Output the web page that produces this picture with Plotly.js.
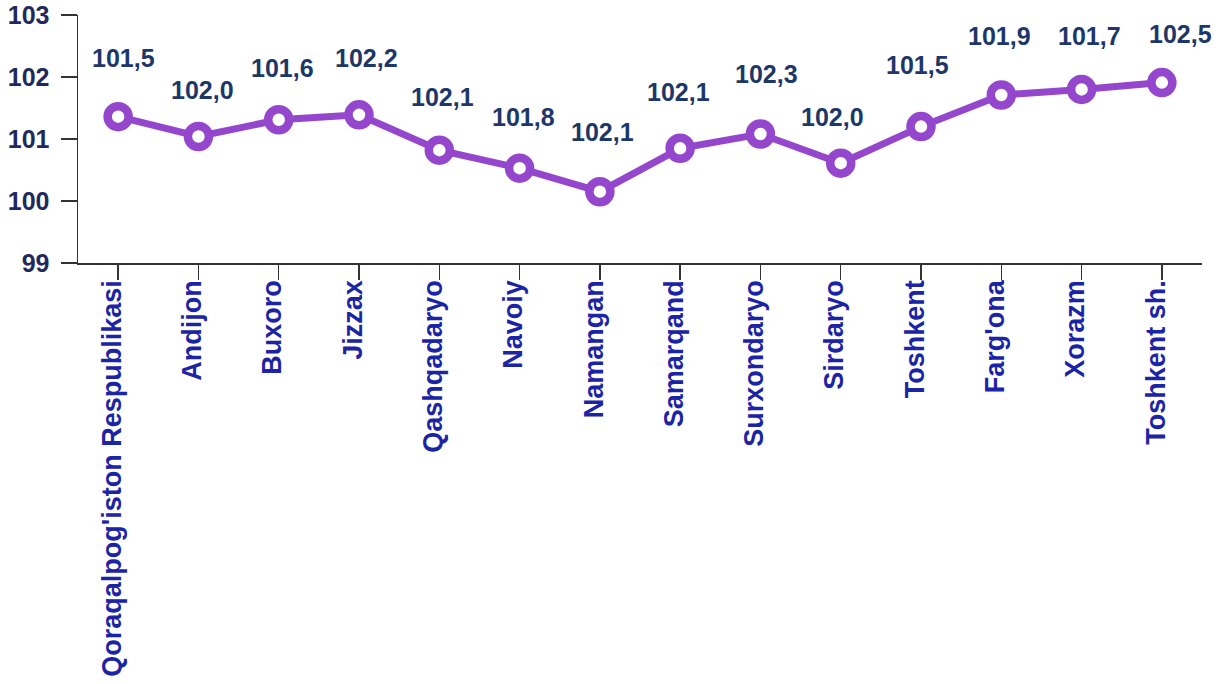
<!DOCTYPE html>
<html>
<head>
<meta charset="utf-8">
<script src="https://cdn.plot.ly/plotly-3.0.1.min.js"></script>
<style>
  html, body { margin: 0; padding: 0; background: #ffffff; }
  #chart { width: 1231px; height: 684px; }
</style>
</head>
<body>
<div id="chart"></div>
<script>
// ---- data ----
const regions = [
  "Qoraqalpog'iston Respublikasi", "Andijon", "Buxoro", "Jizzax", "Qashqadaryo",
  "Navoiy", "Namangan", "Samarqand", "Surxondaryo", "Sirdaryo",
  "Toshkent", "Farg'ona", "Xorazm", "Toshkent sh."
];
const lineValues = [
  101.36, 101.04, 101.31, 101.39, 100.82,
  100.53, 100.15, 100.85, 101.08, 100.61,
  101.20, 101.71, 101.80, 101.91
];
const valueLabels = [
  "101,5", "102,0", "101,6", "102,2", "102,1",
  "101,8", "102,1", "102,1", "102,3", "102,0",
  "101,5", "101,9", "101,7", "102,5"
];
const yTicks = [99, 100, 101, 102, 103];

// ---- label placement nudges (pixels, relative to each point) ----
const labelLift = [59, 47, 52, 57, 53, 51, 60, 56, 60, 46, 62, 59, 53, 49];
const labelSide = [5, 4, 4, 7, 3, 4, 3, -2, 6, -8, -4, -2, 8, 19];

const FONT = "Liberation Sans, Arial, Helvetica, sans-serif";

const trace = {
  type: "scatter",
  mode: "lines+markers",
  x: regions,
  y: lineValues,
  line: { color: "#9447cc", width: 7 },
  marker: {
    size: 21,
    color: "#ffffff",
    line: { color: "#9447cc", width: 8.5 }
  },
  hoverinfo: "x+y",
  showlegend: false
};

const annotations = regions.map((r, i) => ({
  x: r,
  y: lineValues[i],
  xref: "x",
  yref: "y",
  text: valueLabels[i],
  showarrow: false,
  xanchor: "center",
  yanchor: "middle",
  yshift: labelLift[i],
  xshift: labelSide[i],
  font: { family: FONT, size: 25, color: "#1d3768", weight: "bold" }
}));

const layout = {
  width: 1231,
  height: 684,
  paper_bgcolor: "#ffffff",
  plot_bgcolor: "#ffffff",
  margin: { l: 78, r: 29, t: 15, b: 421 },
  xaxis: {
    type: "category",
    range: [-0.5, 13.5],
    showgrid: false,
    zeroline: false,
    showline: true,
    linecolor: "#333333",
    linewidth: 1.5,
    ticks: "outside",
    ticklen: 15,
    tickwidth: 1.5,
    tickcolor: "#333333",
    tickangle: -90,
    ticklabelshift: -6,
    ticklabelstandoff: -10,
    tickfont: { family: FONT, size: 27, color: "#1c24a6", weight: "bold" }
  },
  yaxis: {
    range: [99, 103],
    tickvals: yTicks,
    ticktext: yTicks.map(String),
    showgrid: false,
    zeroline: false,
    showline: true,
    linecolor: "#333333",
    linewidth: 1.5,
    ticks: "outside",
    ticklen: 16,
    tickwidth: 1.5,
    tickcolor: "#333333",
    ticklabelstandoff: 6,
    tickfont: { family: FONT, size: 25, color: "#1f2a5c", weight: "bold" }
  },
  annotations: annotations,
  showlegend: false
};

Plotly.newPlot("chart", [trace], layout, { displayModeBar: false, staticPlot: true });
</script>
</body>
</html>
